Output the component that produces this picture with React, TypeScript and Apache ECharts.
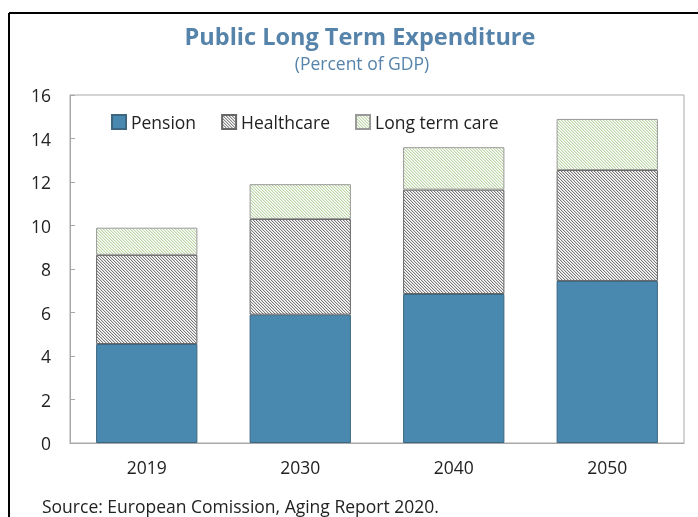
import React, { useEffect, useRef } from "react";
import * as echarts from "echarts";

const categories = ["2019", "2030", "2040", "2050"];
const pension = [4.55, 5.9, 6.85, 7.45];
const healthcare = [4.1, 4.4, 4.8, 5.1];
const longTermCare = [1.25, 1.6, 1.95, 2.35];
const yTicks = { min: 0, max: 16, interval: 2 };

function makePattern(dark: string, mid: string, light: string, period: number): HTMLCanvasElement {
  const c = document.createElement("canvas");
  c.width = period * 2;
  c.height = period * 2;
  const ctx = c.getContext("2d")!;
  for (let y = 0; y < c.height; y++) {
    for (let x = 0; x < c.width; x++) {
      const k = (((x - y) % period) + period) % period;
      ctx.fillStyle = k === 0 ? dark : k === 1 ? mid : light;
      ctx.fillRect(x, y, 1, 1);
    }
  }
  return c;
}

export default function App() {
  const ref = useRef<HTMLDivElement>(null);
  useEffect(() => {
    if (!ref.current) return;
    const chart = echarts.init(ref.current, undefined, { renderer: "svg" });
    const hcPattern = makePattern("#7a7a7a", "#d8d8d8", "#ffffff", 3);
    const ltcPattern = makePattern("#bcd6a8", "#e6f0dc", "#ffffff", 3);
    const font = "'Open Sans', 'Noto Sans', sans-serif";
    chart.setOption({
      animation: false,
      textStyle: { fontFamily: font },
      title: [
        {
          text: "Public Long Term Expenditure",
          left: 360,
          textAlign: "center",
          top: 20,
          padding: 0,
          textStyle: { fontFamily: font, fontSize: 23.5, fontWeight: "bold", color: "#5683aa", lineHeight: 32 },
        },
        {
          text: "(Percent of GDP)",
          left: 362,
          textAlign: "center",
          top: 52,
          padding: 0,
          textStyle: { fontFamily: font, fontSize: 17.5, fontWeight: "normal", color: "#5683aa", lineHeight: 22 },
        },
      ],
      legend: {
        left: 106,
        top: 108,
        itemWidth: 14,
        itemHeight: 14,
        itemGap: 25,
        icon: "rect",
        textStyle: { fontFamily: font, fontSize: 17.5, color: "#222" },
        data: ["Pension", "Healthcare", "Long term care"],
      },
      grid: {
        left: 70,
        right: 14,
        top: 95,
        bottom: 74,
        show: true,
        borderColor: "#a8a8a8",
        borderWidth: 1,
        backgroundColor: "transparent",
      },
      xAxis: {
        type: "category",
        data: categories,
        axisLine: { lineStyle: { color: "#a8a8a8" } },
        axisTick: { inside: true, length: 5, lineStyle: { color: "#a8a8a8" } },
        axisLabel: { fontFamily: font, fontSize: 17.5, color: "#222", margin: 15 },
      },
      yAxis: {
        type: "value",
        min: yTicks.min,
        max: yTicks.max,
        interval: yTicks.interval,
        axisLine: { show: true, lineStyle: { color: "#a8a8a8" } },
        axisTick: { show: true, inside: true, length: 5, lineStyle: { color: "#a8a8a8" } },
        splitLine: { show: false },
        axisLabel: { fontFamily: font, fontSize: 17.5, color: "#222", margin: 19 },
      },
      series: [
        {
          name: "Pension",
          type: "bar",
          stack: "total",
          barCategoryGap: "34%",
          data: pension,
          itemStyle: { color: "#4a89af", borderColor: "#3d6680", borderWidth: 1 },
        },
        {
          name: "Healthcare",
          type: "bar",
          stack: "total",
          data: healthcare,
          itemStyle: { color: { image: hcPattern, repeat: "repeat" }, borderColor: "#666", borderWidth: 1 },
        },
        {
          name: "Long term care",
          type: "bar",
          stack: "total",
          data: longTermCare,
          itemStyle: { color: { image: ltcPattern, repeat: "repeat" }, borderColor: "#999", borderWidth: 1 },
        },
      ],
      graphic: [
        { type: "line", shape: { x1: 9, y1: 13, x2: 698, y2: 13 }, style: { stroke: "#000", lineWidth: 2 } },
        { type: "line", shape: { x1: 9, y1: 13, x2: 9, y2: 517 }, style: { stroke: "#000", lineWidth: 2 } },
        {
          type: "text",
          left: 42,
          top: 497,
          style: { text: "Source: European Comission, Aging Report 2020.", fontFamily: font, fontSize: 17.5, fill: "#222" },
        },
      ],
    });
    return () => chart.dispose();
  }, []);
  return <div ref={ref} style={{ position: "fixed", left: 0, top: 0, width: 698, height: 517 }} />;
}
